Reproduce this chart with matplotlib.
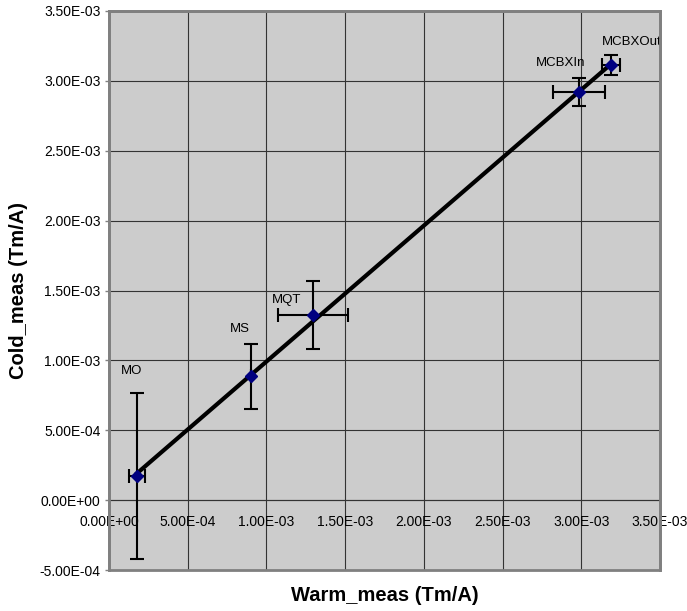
import numpy as np
import matplotlib
matplotlib.use("Agg")
import matplotlib.pyplot as plt
from matplotlib.patches import Rectangle

# magnet types and their measured transfer functions (Tm/A)
names = ["MO", "MS", "MQT", "MCBXIn", "MCBXOut"]
warm = [1.78e-4, 9.02e-4, 1.296e-3, 2.986e-3, 3.189e-3]
cold = [1.72e-4, 8.87e-4, 1.323e-3, 2.918e-3, 3.112e-3]
warm_err = [5.0e-5, 0.0, 2.25e-4, 1.65e-4, 6.0e-5]
cold_err = [5.95e-4, 2.33e-4, 2.43e-4, 1.0e-4, 7.0e-5]

x_ticks = np.arange(0, 3.51e-3, 5e-4)
y_ticks = np.arange(-5e-4, 3.51e-3, 5e-4)

# label offsets in points, relative to each point
label_off = [(-4, 76), (-8, 34), (-19, 11), (-13, 21), (15, 17)]

plt.rcParams['font.family'] = ['Liberation Sans', 'DejaVu Sans']

fig = plt.figure(figsize=(6.87, 6.11), dpi=100)
ax = fig.add_axes([109 / 687, 41 / 611, 551 / 687, 559 / 611])
ax.set_facecolor('#cccccc')

ax.set_xlim(0, 3.5e-3)
ax.set_ylim(-5e-4, 3.5e-3)
ax.set_xticks(x_ticks)
ax.set_yticks(y_ticks)
ax.set_xticklabels(["%.2E" % v for v in x_ticks])
ax.set_yticklabels(["%.2E" % v for v in y_ticks])
ax.grid(True, color='#333333', linewidth=0.8)
ax.set_axisbelow(True)

# x axis sits on y = 0, frame drawn as a gray box
for side in ['top', 'right', 'left']:
    ax.spines[side].set_color('#808080')
    ax.spines[side].set_linewidth(2)
ax.spines['bottom'].set_position(('data', 0))
ax.spines['bottom'].set_color('#333333')
ax.spines['bottom'].set_linewidth(0.8)
ax.add_patch(Rectangle((0, 0), 1, 1, transform=ax.transAxes, fill=False,
                       edgecolor='#808080', linewidth=2, zorder=5, clip_on=False))

ax.tick_params(axis='x', length=0, pad=11, labelsize=10)
ax.tick_params(axis='y', length=3, width=1, color='#808080', pad=3, labelsize=10)

# linear trend line over the data range
coef = np.polyfit(warm, cold, 1)
xs = np.array([min(warm), max(warm)])
ax.plot(xs, np.polyval(coef, xs), color='black', linewidth=3, zorder=3)

ax.errorbar(warm, cold, xerr=warm_err, yerr=cold_err, fmt='none',
            ecolor='black', elinewidth=1.5, capsize=5, capthick=1.5, zorder=4)
ax.plot(warm, cold, linestyle='none', marker='D', markersize=6,
        color='#000080', zorder=6)

for n, x, y, off in zip(names, warm, cold, label_off):
    ax.annotate(n, (x, y), xytext=off, textcoords='offset points',
                ha='center', va='center', fontsize=9.5)

ax.set_xlabel("Warm_meas (Tm/A)", fontsize=14.5, fontweight='bold')
ax.xaxis.set_label_coords(0.5, -0.045)
ax.xaxis.label.set_va('center')
ax.set_ylabel("Cold_meas (Tm/A)", fontsize=14.5, fontweight='bold')
ax.yaxis.set_label_coords(-0.165, 0.5)
ax.yaxis.label.set_va('center')

fig.savefig("out.png", dpi=100)
